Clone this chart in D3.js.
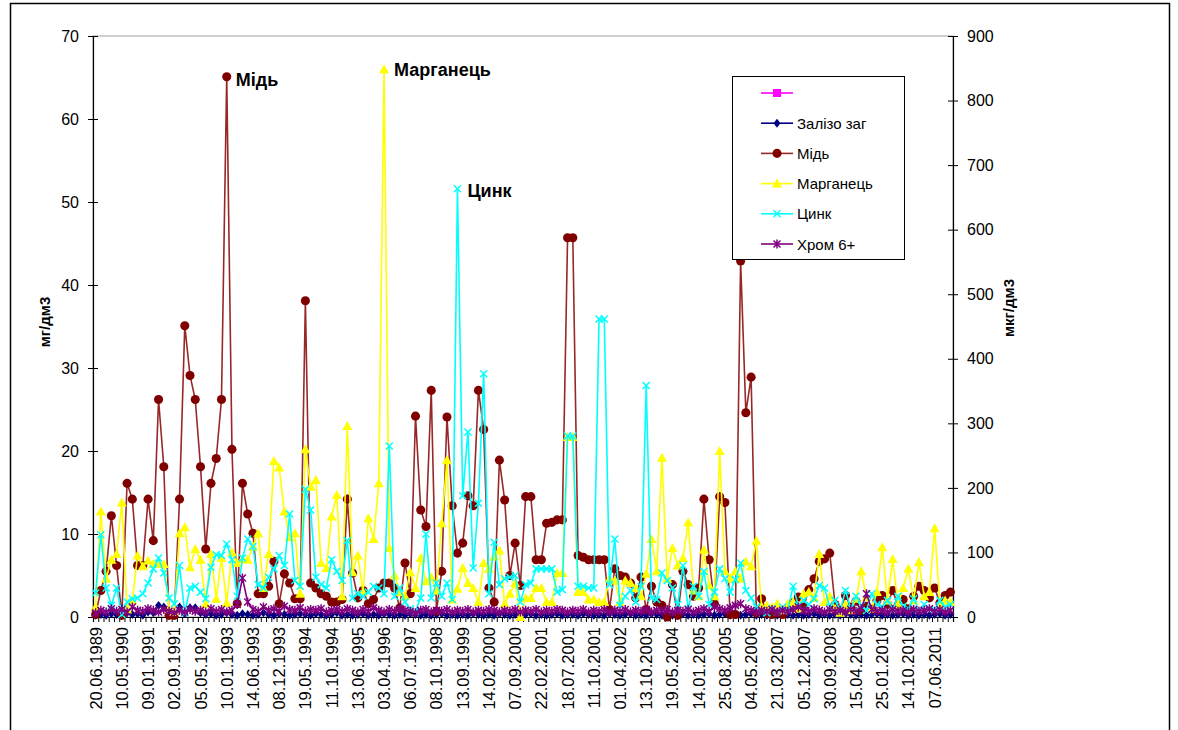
<!DOCTYPE html>
<html>
<head>
<meta charset="utf-8">
<script src="https://cdn.jsdelivr.net/npm/d3@7"></script>
<style>
  body { margin: 0; background: #fff; }
  svg { display: block; font-family: "Liberation Sans", Arial, sans-serif; }
</style>
</head>
<body>
<div id="chart"></div>
<script>
// labels shown under every 5th sample
const tickLabels = ["20.06.1989", "10.05.1990", "09.01.1991", "02.09.1991", "05.05.1992", "10.01.1993",
  "14.06.1993", "08.12.1993", "19.05.1994", "11.10.1994", "13.06.1995", "03.04.1996", "06.07.1997",
  "08.10.1998", "13.09.1999", "14.02.2000", "07.09.2000", "22.02.2001", "18.07.2001", "11.10.2001",
  "01.04.2002", "13.10.2003", "19.05.2004", "14.01.2005", "25.08.2005", "04.05.2006", "21.03.2007",
  "05.12.2007", "30.09.2008", "15.04.2009", "25.01.2010", "14.10.2010", "07.06.2011"];
const labelStep = 5;

const iron = [
  0.2, 0.3, 0.2, 0.4, 0.3, 0.2, 0.5, 0.3, 0.4, 0.2,
  0.6, 0.5, 1.4, 1.2, 0.4, 0.3, 1.2, 0.4, 1.1, 1.1,
  0.5, 0.3, 0.4, 0.2, 0.3, 0.5, 0.3, 0.2, 0.4, 0.3,
  0.2, 0.3, 0.5, 0.3, 0.2, 0.4, 0.3, 0.2, 0.3, 0.4,
  0.3, 0.2, 0.4, 0.3, 0.2, 0.3, 0.5, 0.2, 0.3, 0.2,
  0.3, 0.4, 0.2, 0.3, 0.2, 0.4, 0.3, 0.2, 0.3, 0.2,
  0.4, 0.3, 0.2, 0.3, 0.2, 0.3, 0.4, 0.2, 0.3, 0.2,
  0.3, 0.2, 0.4, 0.3, 0.2, 0.3, 0.2, 0.4, 0.3, 0.2,
  0.3, 0.2, 0.3, 0.4, 0.2, 0.3, 0.2, 0.3, 0.4, 0.2,
  0.3, 0.3, 0.2, 0.4, 0.3, 0.2, 0.3, 0.2, 0.4, 0.3,
  0.2, 0.3, 0.4, 0.2, 0.3, 0.2, 0.4, 0.3, 0.2, 0.3,
  0.2, 0.3, 0.4, 0.2, 0.3, 0.2, 0.3, 0.4, 0.2, 0.3,
  0.4, 0.2, 0.3, 0.2, 0.3, 0.4, 0.2, 0.3, 0.2, 0.3,
  0.2, 0.4, 0.3, 0.2, 0.3, 0.2, 0.3, 0.4, 0.2, 0.3,
  0.2, 0.3, 0.2, 0.4, 0.3, 0.2, 0.3, 0.2, 0.3, 0.4,
  0.2, 0.3, 0.2, 0.3, 0.4, 0.2, 0.3, 0.2, 0.3, 0.2,
  0.3, 0.4, 0.2, 0.3];

const copper = [
  0.3, 3.2, 5.5, 12.2, 6.2, 0.2, 16.1, 14.2, 6.2, 6.2,
  14.2, 9.2, 26.2, 18.1, 0.2, 0.2, 14.2, 35.1, 29.1, 26.2,
  18.1, 8.2, 16.1, 19.1, 26.2, 65.1, 20.2, 1.6, 16.1, 12.4,
  10.1, 2.8, 2.8, 3.7, 6.7, 1.6, 5.2, 4.1, 2.2, 2.2,
  38.1, 4.1, 3.5, 2.8, 2.5, 1.8, 1.8, 2.1, 14.2, 5.3,
  2.3, 3.2, 1.6, 2.1, 3.5, 4.1, 4.1, 3.5, 1.1, 6.5,
  2.8, 24.2, 12.9, 10.9, 27.3, 0.7, 5.5, 24.1, 13.4, 7.7,
  8.9, 14.6, 13.4, 27.3, 22.6, 3.5, 1.8, 18.9, 14.1, 5.0,
  8.9, 3.8, 14.5, 14.5, 6.9, 6.9, 11.3, 11.4, 11.7, 11.7,
  45.7, 45.7, 7.4, 7.2, 6.9, 6.9, 6.9, 6.9, 0.9, 5.8,
  5.0, 4.8, 4.1, 2.3, 4.8, 0.9, 3.7, 1.8, 1.4, 0.0,
  3.9, 0.2, 5.5, 3.9, 2.5, 3.5, 14.2, 6.9, 1.6, 14.5,
  13.8, 0.3, 0.3, 42.9, 24.6, 28.9, 0.5, 2.2, 0.4, 0.3,
  0.5, 0.3, 1.0, 1.7, 2.4, 1.2, 3.3, 4.6, 6.7, 7.0,
  7.7, 1.5, 0.8, 2.6, 1.2, 1.9, 0.8, 1.3, 1.0, 2.0,
  2.6, 1.5, 3.2, 1.4, 2.1, 1.0, 2.5, 3.7, 3.2, 2.3,
  3.5, 1.7, 2.6, 3.0];

const manganese = [
  1.2, 12.7, 4.6, 6.9, 7.6, 13.8, 0.9, 2.0, 7.4, 6.1,
  6.8, 6.4, 6.4, 6.4, 1.0, 0.6, 10.1, 10.8, 6.0, 8.2,
  6.9, 1.6, 7.6, 2.2, 7.1, 1.7, 7.8, 6.5, 7.0, 6.9,
  8.5, 10.1, 3.5, 7.6, 18.8, 18.0, 12.7, 9.6, 10.1, 2.8,
  20.2, 15.7, 16.5, 6.5, 5.9, 12.1, 14.7, 2.5, 23.0, 5.4,
  7.4, 3.0, 11.9, 9.4, 16.1, 66.0, 8.3, 5.0, 3.0, 2.5,
  5.4, 3.5, 7.1, 4.3, 4.8, 3.2, 11.3, 18.9, 2.1, 3.4,
  5.9, 4.1, 3.5, 1.8, 6.5, 5.8, 7.3, 8.0, 1.6, 2.8,
  4.1, 0.0, 2.3, 2.3, 3.5, 3.5, 1.8, 1.8, 5.3, 5.3,
  21.7, 21.7, 3.0, 3.0, 2.1, 2.1, 1.8, 1.8, 4.6, 4.4,
  1.8, 4.4, 4.1, 3.5, 2.5, 5.2, 9.4, 5.5, 19.2, 4.6,
  8.3, 6.2, 7.1, 11.4, 3.2, 2.5, 8.1, 3.8, 2.5, 20.0,
  5.5, 4.6, 5.5, 4.6, 6.7, 6.1, 9.2, 1.2, 1.4, 1.2,
  1.6, 0.8, 1.6, 1.8, 1.0, 2.8, 3.0, 2.3, 7.6, 1.8,
  2.5, 1.0, 0.5, 1.5, 0.8, 2.2, 5.5, 2.4, 1.0, 3.0,
  8.4, 2.0, 7.0, 1.5, 3.5, 5.8, 2.0, 6.6, 2.5, 3.0,
  10.7, 1.5, 2.0, 1.8];

const zinc = [
  2.9, 9.9, 3.5, 1.4, 3.5, 0.3, 1.8, 2.2, 2.3, 2.8,
  4.1, 5.8, 7.1, 5.3, 2.3, 1.6, 6.2, 0.5, 3.5, 3.7,
  3.0, 2.2, 6.0, 7.5, 7.4, 8.8, 6.9, 2.5, 7.1, 9.4,
  8.5, 3.9, 3.5, 4.8, 5.8, 7.4, 6.2, 12.4, 4.4, 3.7,
  15.4, 12.9, 4.8, 3.9, 3.5, 6.9, 5.5, 4.4, 9.2, 2.3,
  2.8, 2.5, 3.0, 3.7, 3.5, 2.8, 20.6, 2.5, 3.5, 1.8,
  1.0, 0.7, 2.3, 10.0, 2.3, 4.1, 2.5, 4.1, 2.1, 51.6,
  14.6, 22.3, 5.9, 13.7, 29.3, 2.8, 9.0, 3.9, 4.6, 4.8,
  5.0, 1.8, 3.9, 4.1, 5.8, 5.8, 5.8, 5.8, 3.0, 3.3,
  21.8, 21.8, 3.7, 3.7, 3.5, 3.5, 35.9, 35.9, 3.9, 9.4,
  1.4, 2.5, 3.2, 1.8, 3.7, 27.9, 2.3, 2.1, 5.3, 4.4,
  3.5, 1.5, 6.2, 1.0, 3.7, 2.5, 5.5, 1.5, 3.0, 5.8,
  4.6, 3.0, 4.5, 6.5, 3.2, 2.3, 1.2, 0.8, 0.5, 1.0,
  0.6, 1.2, 0.8, 3.7, 1.4, 2.0, 1.5, 2.2, 3.8, 3.5,
  1.2, 2.0, 0.8, 3.2, 1.0, 2.5, 1.4, 0.8, 2.8, 1.5,
  1.2, 2.0, 0.9, 2.5, 1.3, 1.0, 2.2, 0.8, 1.5, 1.0,
  0.9, 2.0, 1.2, 1.5];

const chrome = [
  0.5, 0.8, 0.6, 1.0, 0.7, 0.9, 0.6, 1.2, 0.8, 0.7,
  1.0, 0.8, 0.6, 0.9, 0.7, 0.5, 0.8, 0.6, 0.9, 0.7,
  0.8, 0.6, 1.0, 0.7, 0.9, 0.6, 0.8, 1.5, 4.7, 1.8,
  0.9, 0.7, 1.2, 0.8, 1.0, 0.7, 1.3, 0.9, 0.8, 1.1,
  0.7, 0.9, 0.8, 1.0, 0.6, 0.8, 0.9, 0.7, 1.0, 0.8,
  0.6, 0.9, 0.7, 1.1, 0.8, 0.6, 0.9, 0.7, 1.0, 0.8,
  0.7, 0.5, 0.8, 0.9, 0.6, 0.8, 0.7, 0.9, 0.6, 0.8,
  0.7, 0.9, 0.6, 0.8, 0.7, 0.9, 0.8, 0.6, 0.8, 0.7,
  0.9, 0.6, 0.8, 0.7, 0.9, 0.6, 0.8, 0.7, 0.9, 0.8,
  0.6, 0.8, 0.7, 0.9, 0.6, 0.8, 0.7, 0.9, 0.6, 0.8,
  0.7, 0.9, 0.6, 0.8, 0.7, 0.9, 0.6, 0.8, 0.7, 0.9,
  0.6, 0.8, 0.7, 0.9, 0.6, 0.8, 1.0, 0.7, 1.2, 1.0,
  0.8, 1.1, 1.4, 1.6, 1.0, 0.8, 0.6, 0.8, 0.7, 0.9,
  0.6, 0.8, 0.7, 0.9, 1.2, 0.8, 0.7, 1.0, 0.8, 0.6,
  0.9, 0.7, 0.8, 0.6, 0.9, 0.7, 1.0, 2.8, 0.9, 0.7,
  0.8, 0.6, 0.9, 0.7, 0.8, 0.6, 0.9, 0.7, 0.8, 1.0,
  0.7, 0.9, 0.6, 0.8];

const seriesNames = ["", "Залізо заг", "Мідь", "Марганець", "Цинк", "Хром 6+"];

const width = 1178, height = 730;
const plot = { left: 93, right: 953, top: 36, bottom: 617 };
const n = copper.length;

const svg = d3.select("#chart").append("svg")
  .attr("width", width)
  .attr("height", height);

svg.append("rect").attr("width", width).attr("height", height).attr("fill", "#fff");

// outer chart frame
svg.append("rect")
  .attr("x", 10.5).attr("y", 3.5)
  .attr("width", 1159).attr("height", 800)
  .attr("fill", "none").attr("stroke", "#000").attr("stroke-width", 1.5);

const x = d3.scaleBand().domain(d3.range(n)).range([plot.left, plot.right]).paddingInner(0).paddingOuter(0);
const xEdge = d3.scaleLinear().domain([0, n]).range([plot.left, plot.right]);
const yL = d3.scaleLinear().domain([0, 70]).range([plot.bottom, plot.top]);
const yR = d3.scaleLinear().domain([0, 900]).range([plot.bottom, plot.top]);
const cx = i => x(i) + x.bandwidth() / 2;

// plot area border
svg.append("rect")
  .attr("x", plot.left).attr("y", plot.top)
  .attr("width", plot.right - plot.left).attr("height", plot.bottom - plot.top)
  .attr("fill", "none").attr("stroke", "#a0a0a0").attr("stroke-width", 1);

// axes
const gL = svg.append("g").attr("transform", `translate(${plot.left},0)`)
  .call(d3.axisLeft(yL).tickValues(d3.range(0, 71, 10)).tickSize(5).tickPadding(9));
const gR = svg.append("g").attr("transform", `translate(${plot.right},0)`)
  .call(d3.axisRight(yR).tickValues(d3.range(0, 901, 100)).tickSize(5).tickPadding(9));
[gL, gR].forEach(g => {
  g.select(".domain").attr("stroke", "#000").attr("stroke-width", 1.2);
  g.selectAll(".tick line").attr("x1", -5).attr("x2", 5).attr("stroke", "#000");
  g.selectAll("text").attr("font-size", 16).attr("fill", "#000")
    .attr("font-family", "Liberation Sans, Arial, sans-serif");
});

const gX = svg.append("g").attr("transform", `translate(0,${plot.bottom})`)
  .call(d3.axisBottom(xEdge).tickValues(d3.range(0, n + 1)).tickSize(5).tickFormat(""));
gX.select(".domain").attr("stroke", "#000").attr("stroke-width", 1.2);
gX.selectAll(".tick line").attr("stroke", "#000");

svg.append("g").selectAll("text")
  .data(tickLabels)
  .join("text")
  .attr("transform", (d, k) => `translate(${cx(k * labelStep) + 6},${plot.bottom + 10}) rotate(-90)`)
  .attr("text-anchor", "end")
  .attr("font-size", 16.5)
  .text(d => d);

// axis titles
svg.append("text")
  .attr("transform", `translate(50,322) rotate(-90)`)
  .attr("text-anchor", "middle").attr("font-size", 15).attr("font-weight", "bold")
  .text("мг/дм3");
svg.append("text")
  .attr("transform", `translate(1014,308) rotate(-90)`)
  .attr("text-anchor", "middle").attr("font-size", 15).attr("font-weight", "bold")
  .text("мкг/дм3");

// marker shapes
function markerPath(kind, s) {
  const h = s / 2;
  if (kind === "square") return `M${-h},${-h}H${h}V${h}H${-h}Z`;
  if (kind === "diamond") return `M0,${-h - 1}L${h},0L0,${h + 1}L${-h},0Z`;
  if (kind === "circle") return d3.symbol(d3.symbolCircle, s * s * 0.8)();
  if (kind === "triangle") return `M0,${-h - 1}L${h + 1},${h}L${-h - 1},${h}Z`;
  if (kind === "x") return `M${-h},${-h}L${h},${h}M${-h},${h}L${h},${-h}`;
  if (kind === "star") return `M${-h},${-h}L${h},${h}M${-h},${h}L${h},${-h}M0,${-h - 1}V${h + 1}`;
}

const series = [
  { name: seriesNames[0], values: [], line: "#ff00ff", mark: "#ff00ff", kind: "square", size: 8, stroke: false },
  { name: seriesNames[1], values: iron, line: "#000080", mark: "#000080", kind: "diamond", size: 7, stroke: false },
  { name: seriesNames[2], values: copper, line: "#962828", mark: "#800000", kind: "circle", size: 9, stroke: false },
  { name: seriesNames[3], values: manganese, line: "#ffff00", mark: "#ffff00", kind: "triangle", size: 8, stroke: false },
  { name: seriesNames[4], values: zinc, line: "#00ffff", mark: "#00ffff", kind: "x", size: 7, stroke: true },
  { name: seriesNames[5], values: chrome, line: "#800080", mark: "#800080", kind: "star", size: 7, stroke: true }
];

const line = d3.line().x((d, i) => cx(i)).y(d => yL(d));

series.forEach(s => {
  if (!s.values.length) return;
  const g = svg.append("g");
  g.append("path")
    .attr("d", line(s.values))
    .attr("fill", "none")
    .attr("stroke", s.line)
    .attr("stroke-width", 1.6);
  g.selectAll("path.m")
    .data(s.values)
    .join("path")
    .attr("class", "m")
    .attr("transform", (d, i) => `translate(${cx(i)},${yL(d)})`)
    .attr("d", markerPath(s.kind, s.size))
    .attr("fill", s.stroke ? "none" : s.mark)
    .attr("stroke", s.stroke ? s.mark : "none")
    .attr("stroke-width", 1.5);
});

// peak annotations
const notes = [
  { text: "Мідь", i: 25, v: 65.1, dx: 9, dy: 9 },
  { text: "Марганець", i: 55, v: 66.0, dx: 10, dy: 7 },
  { text: "Цинк", i: 69, v: 51.6, dx: 10, dy: 8 }
];
svg.append("g").selectAll("text")
  .data(notes)
  .join("text")
  .attr("x", d => cx(d.i) + d.dx)
  .attr("y", d => yL(d.v) + d.dy)
  .attr("font-size", 18)
  .attr("font-weight", "bold")
  .text(d => d.text);

// legend
const leg = svg.append("g").attr("transform", "translate(732,76)");
leg.append("rect")
  .attr("x", 0.5).attr("y", 0.5).attr("width", 172).attr("height", 183)
  .attr("fill", "#fff").attr("stroke", "#000").attr("stroke-width", 1);
const rows = leg.selectAll("g.row")
  .data(series)
  .join("g")
  .attr("class", "row")
  .attr("transform", (d, k) => `translate(0,${17 + k * 30.2})`);
rows.append("line")
  .attr("x1", 29).attr("x2", 61)
  .attr("stroke", d => d.line).attr("stroke-width", 1.6);
rows.append("path")
  .attr("transform", "translate(45,0)")
  .attr("d", d => markerPath(d.kind, d.size))
  .attr("fill", d => d.stroke ? "none" : d.mark)
  .attr("stroke", d => d.stroke ? d.mark : "none")
  .attr("stroke-width", 1.5);
rows.append("text")
  .attr("x", 65).attr("y", 5.5)
  .attr("font-size", 15)
  .text(d => d.name);
</script>
</body>
</html>
